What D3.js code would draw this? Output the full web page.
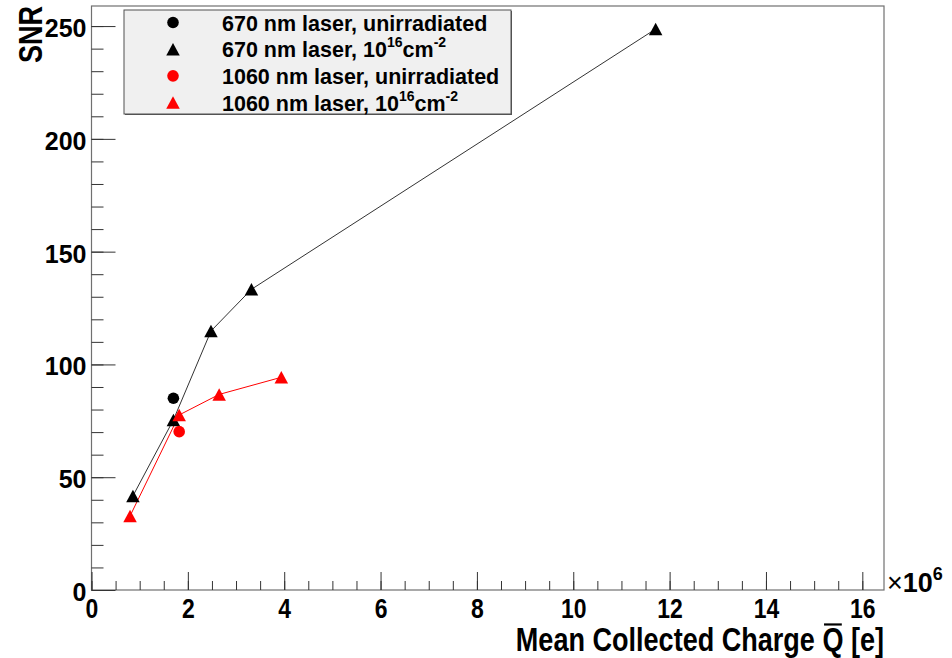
<!DOCTYPE html>
<html>
<head>
<meta charset="utf-8">
<script src="https://cdn.jsdelivr.net/npm/d3@7"></script>
<style>
  html, body { margin: 0; padding: 0; background: #fff; }
  svg { display: block; }
  .bold { font-family: "Liberation Sans", Arial, Helvetica, sans-serif; font-weight: bold; }
</style>
</head>
<body>
<svg id="chart" width="952" height="658"></svg>
<script>
// ---------------- data ----------------
const xTickValues = [0, 2, 4, 6, 8, 10, 12, 14, 16];
const yTickValues = [0, 50, 100, 150, 200, 250];

const q670Unirr   = [1.70];
const snr670Unirr = [85.0];

const q670Irr   = [0.86, 1.70, 2.48, 3.32, 11.71];
const snr670Irr = [41.7, 75.4, 114.8, 133.3, 248.7];

const q1060Unirr   = [1.82];
const snr1060Unirr = [70.2];

const q1060Irr   = [0.80, 1.82, 2.65, 3.94];
const snr1060Irr = [32.8, 77.6, 86.7, 94.3];

const legendLabels = [
  ["670 nm laser, unirradiated"],
  ["670 nm laser, 10", "16", "cm", "-2"],
  ["1060 nm laser, unirradiated"],
  ["1060 nm laser, 10", "16", "cm", "-2"]
];

// ---------------- layout ----------------
const svg = d3.select("#chart");
const frame = { left: 91.5, right: 884, top: 6, bottom: 590 };
const NARROW = 0.82;

const x = d3.scaleLinear().domain([0, 16.45]).range([frame.left, frame.right]);
const y = d3.scaleLinear().domain([0, 258.9]).range([frame.bottom, frame.top]);

// frame
svg.append("rect")
  .attr("x", frame.left).attr("y", frame.top)
  .attr("width", frame.right - frame.left).attr("height", frame.bottom - frame.top)
  .attr("fill", "none").attr("stroke", "#707070").attr("stroke-width", 1.2);

// ---------------- axes ----------------
// y minor
svg.append("g").attr("transform", `translate(${frame.left},0)`)
  .call(d3.axisLeft(y).tickValues(d3.range(0, 259, 10)).tickSize(-12).tickFormat(""))
  .call(g => g.select(".domain").remove())
  .call(g => g.selectAll("line").attr("stroke", "#333"));
// y major
svg.append("g").attr("transform", `translate(${frame.left},0)`)
  .call(d3.axisLeft(y).tickValues(yTickValues).tickSize(-24).tickPadding(5).tickFormat(d3.format("d")))
  .call(g => g.select(".domain").remove())
  .call(g => g.selectAll("line").attr("stroke", "#333"))
  .call(g => g.selectAll("text").attr("class", "bold").attr("font-size", 25).attr("font-family", null)
      .attr("fill", "#000").attr("dy", "0.42em"));

// x minor
svg.append("g").attr("transform", `translate(0,${frame.bottom})`)
  .call(d3.axisBottom(x).tickValues(d3.range(0, 16.5, 0.5)).tickSize(-9).tickFormat(""))
  .call(g => g.select(".domain").remove())
  .call(g => g.selectAll("line").attr("stroke", "#333"));
// x major
svg.append("g").attr("transform", `translate(0,${frame.bottom})`)
  .call(d3.axisBottom(x).tickValues(xTickValues).tickSize(-18).tickPadding(8).tickFormat(d3.format("d")))
  .call(g => g.select(".domain").remove())
  .call(g => g.selectAll("line").attr("stroke", "#333"))
  .call(g => g.selectAll("text").attr("class", "bold").attr("font-size", 28)
      .attr("font-family", null).attr("fill", "#000").attr("dy", "0.71em")
      .attr("transform", `scale(${NARROW},1)`));

// x exponent
const expo = svg.append("text").attr("class", "bold")
  .attr("x", frame.right + 3).attr("y", frame.bottom + 2)
  .attr("font-size", 27).attr("fill", "#000");
expo.append("tspan").attr("font-weight", "normal").text("\u00d7");
expo.append("tspan").text("10");
expo.append("tspan").attr("font-size", 18).attr("dy", -12).text("6");

// axis titles
const xtG = svg.append("g").attr("transform", `translate(${frame.right},651) scale(${NARROW},1)`);
const xtPre = "Mean Collected Charge ";
const xt = xtG.append("text").attr("class", "bold")
  .attr("x", 0).attr("y", 0)
  .attr("text-anchor", "end").attr("font-size", 33).attr("fill", "#000");
xt.append("tspan").text(xtPre);
xt.append("tspan").text("Q");
xt.append("tspan").text(" [e]");
{
  const ext = xt.node().getExtentOfChar(xtPre.length);
  xtG.append("line")
    .attr("x1", ext.x + 2).attr("x2", ext.x + ext.width - 2)
    .attr("y1", ext.y + 3).attr("y2", ext.y + 3)
    .attr("stroke", "#000").attr("stroke-width", 2.2);
}

svg.append("text").attr("class", "bold")
  .attr("transform", `translate(42,${frame.top}) rotate(-90) scale(${NARROW},1)`)
  .attr("text-anchor", "end").attr("font-size", 33).attr("fill", "#000")
  .text("SNR");

// ---------------- marks ----------------
const triPath = (w, h) => `M0,${-h / 2}L${w / 2},${h / 2}L${-w / 2},${h / 2}Z`;
const TRI = triPath(13.5, 12.5);

const line = d3.line().x(d => x(d[0])).y(d => y(d[1]));
const zip = (a, b) => a.map((v, i) => [v, b[i]]);

const plot = svg.append("g");
plot.append("path").datum(zip(q670Irr, snr670Irr)).attr("d", line)
  .attr("fill", "none").attr("stroke", "#333").attr("stroke-width", 1);
plot.append("path").datum(zip(q1060Irr, snr1060Irr)).attr("d", line)
  .attr("fill", "none").attr("stroke", "#ff0000").attr("stroke-width", 1);

function circles(data, color) {
  plot.selectAll(null).data(data).join("circle")
    .attr("cx", d => x(d[0])).attr("cy", d => y(d[1])).attr("r", 5.8).attr("fill", color);
}
function triangles(data, color) {
  plot.selectAll(null).data(data).join("path")
    .attr("transform", d => `translate(${x(d[0])},${y(d[1])})`).attr("d", TRI).attr("fill", color);
}
circles(zip(q670Unirr, snr670Unirr), "#000");
triangles(zip(q670Irr, snr670Irr), "#000");
circles(zip(q1060Unirr, snr1060Unirr), "#ff0000");
triangles(zip(q1060Irr, snr1060Irr), "#ff0000");

// ---------------- legend ----------------
const legend = { x: 124, y: 10, w: 387, h: 104 };
svg.append("rect").attr("x", legend.x + 1).attr("y", legend.y + 1)
  .attr("width", legend.w).attr("height", legend.h).attr("fill", "#555");
svg.append("rect").attr("x", legend.x).attr("y", legend.y)
  .attr("width", legend.w).attr("height", legend.h)
  .attr("fill", "#f0f0f0").attr("stroke", "#505050").attr("stroke-width", 1);

const legendMarkers = [
  { shape: "circle", color: "#000" },
  { shape: "triangle", color: "#000" },
  { shape: "circle", color: "#ff0000" },
  { shape: "triangle", color: "#ff0000" }
];
const rowY = d3.scalePoint().domain(d3.range(4)).range([legend.y + 12.5, legend.y + 92.5]);

legendLabels.forEach((parts, i) => {
  const cy = rowY(i);
  const m = legendMarkers[i];
  if (m.shape === "circle") {
    svg.append("circle").attr("cx", legend.x + 49).attr("cy", cy).attr("r", 5.8).attr("fill", m.color);
  } else {
    svg.append("path").attr("transform", `translate(${legend.x + 49},${cy})`).attr("d", TRI).attr("fill", m.color);
  }
  const t = svg.append("text").attr("class", "bold")
    .attr("x", legend.x + 98).attr("y", cy + 8.3)
    .attr("font-size", 21.5).attr("fill", "#000");
  t.append("tspan").text(parts[0]);
  if (parts.length > 1) {
    t.append("tspan").attr("font-size", 14).attr("dy", -10).text(parts[1]);
    t.append("tspan").attr("dy", 10).text(parts[2]);
    t.append("tspan").attr("font-size", 14).attr("dy", -10).text(parts[3]);
  }
});
</script>
</body>
</html>
